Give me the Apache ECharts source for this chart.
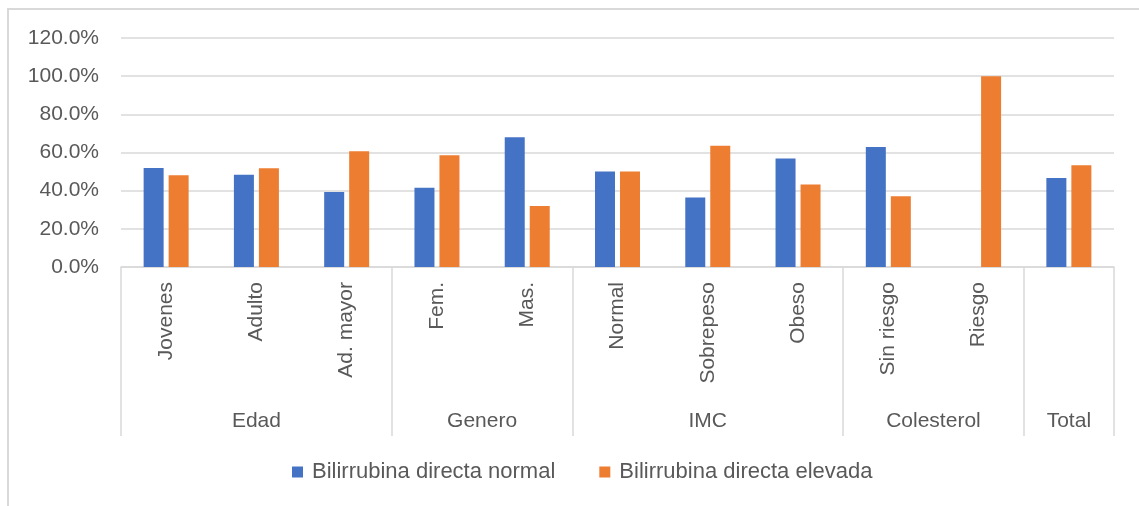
<!DOCTYPE html>
<html>
<head>
<meta charset="utf-8">
<script src="https://cdn.jsdelivr.net/npm/echarts@6/dist/echarts.min.js"></script>
<style>
  body { margin: 0; background: #fff; }
  #frame { position: absolute; left: 7px; top: 8px; width: 1132px; height: 498px;
           border-top: 2px solid #d9d9d9; border-left: 2px solid #d9d9d9; box-sizing: border-box; }
  #main { position: absolute; left: 0; top: 0; width: 1139px; height: 506px; }
</style>
</head>
<body>
<div id="frame"></div>
<div id="main"></div>
<script>
// categorías (nivel 1) y grupos (nivel 2)
const categories = ['Jovenes', 'Adulto', 'Ad. mayor', 'Fem.', 'Mas.', 'Normal', 'Sobrepeso', 'Obeso', 'Sin riesgo', 'Riesgo', '']
const groups = ['Edad', 'Genero', 'IMC', 'Colesterol', 'Total']
const groupSizes = [3, 2, 3, 2, 1]

// porcentajes
const normal = [51.9, 48.3, 39.3, 41.5, 68.0, 50.0, 36.4, 56.8, 62.9, 0, 46.7]
const elevada = [48.1, 51.7, 60.7, 58.5, 32.0, 50.0, 63.6, 43.2, 37.1, 100, 53.3]

const textColor = '#595959'
const lineColor = '#d9d9d9'
const font = 'Liberation Sans'

// eje de grupos: posiciones cada media categoría
const halfSlots = new Array(categories.length * 2 + 1).fill('')
const boundaries = [0]
let pos = 0
groups.forEach((g, i) => {
  halfSlots[pos + groupSizes[i]] = g
  pos += groupSizes[i] * 2
  boundaries.push(pos)
})

const chart = echarts.init(document.getElementById('main'))

chart.setOption({
  backgroundColor: 'transparent',
  color: ['#4472C4', '#ED7D31'],
  textStyle: { fontFamily: font },
  grid: { left: 121, right: 25, top: 38, bottom: 239 },
  legend: {
    left: 287,
    top: 456,
    icon: 'rect',
    itemWidth: 11,
    itemHeight: 11,
    itemGap: 44,
    textStyle: { fontSize: 22, color: textColor, fontFamily: font, padding: [0, 0, 0, 4] },
    data: ['Bilirrubina directa normal', 'Bilirrubina directa elevada']
  },
  xAxis: [
    {
      type: 'category',
      data: categories,
      axisLine: { lineStyle: { color: lineColor, width: 1.5 } },
      axisTick: { show: false },
      axisLabel: { rotate: 90, margin: 15, fontSize: 21, color: textColor, fontFamily: font }
    },
    {
      type: 'category',
      position: 'bottom',
      boundaryGap: false,
      data: halfSlots,
      axisLine: { show: false },
      axisTick: {
        show: true,
        length: 169,
        interval: (i) => boundaries.indexOf(i) >= 0,
        lineStyle: { color: lineColor, width: 1.5 }
      },
      axisLabel: {
        margin: 144,
        fontSize: 21,
        color: textColor,
        fontFamily: font,
        interval: (i, v) => v !== ''
      },
      splitLine: { show: false }
    }
  ],
  yAxis: {
    type: 'value',
    min: 0,
    max: 120,
    interval: 20,
    axisLine: { show: false },
    axisTick: { show: false },
    axisLabel: {
      margin: 22,
      fontSize: 21,
      color: textColor,
      fontFamily: font,
      formatter: (v) => v.toFixed(1) + '%'
    },
    splitLine: { lineStyle: { color: lineColor, width: 1.5 } }
  },
  series: [
    {
      name: 'Bilirrubina directa normal',
      type: 'bar',
      xAxisIndex: 0,
      data: normal,
      barWidth: 20,
      barGap: '25%'
    },
    {
      name: 'Bilirrubina directa elevada',
      type: 'bar',
      xAxisIndex: 0,
      data: elevada,
      barWidth: 20,
      barGap: '25%'
    }
  ]
})
</script>
</body>
</html>
